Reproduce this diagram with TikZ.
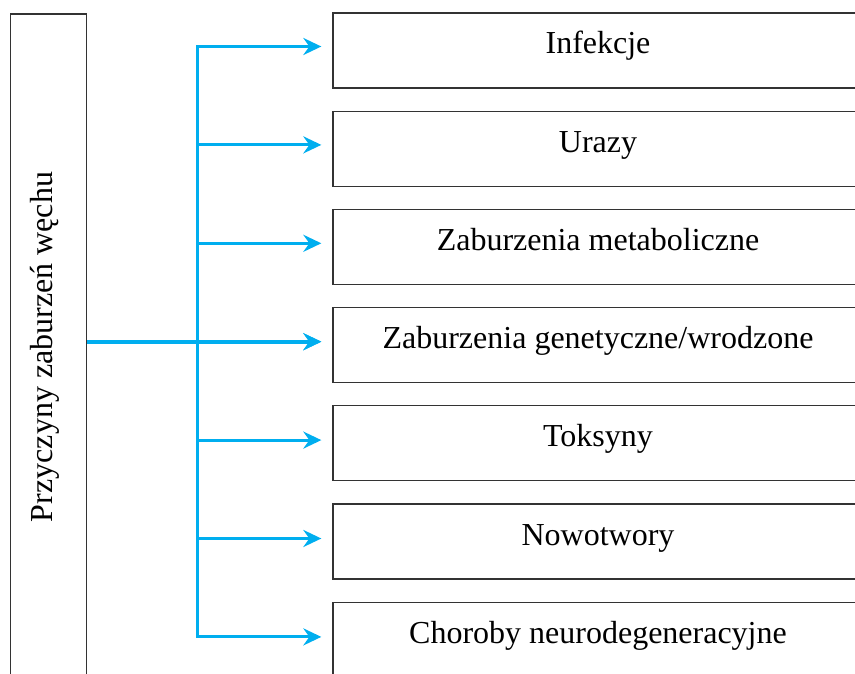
\documentclass[tikz,border=0pt]{standalone}
\usepackage{fontspec}
\setmainfont{Liberation Serif}
\usetikzlibrary{arrows.meta}
\definecolor{branchblue}{RGB}{0,174,239}
\tikzset{
    cause box/.style={draw=black!80, line width=1.3pt, inner sep=0pt,
        minimum width=530pt, minimum height=75pt,
        text height=22pt, text depth=15pt, font=\fontsize{32}{36}\selectfont},
    branch/.style={draw=branchblue, line width=3pt, shorten >=11pt,
        -{Stealth[length=18pt,width=17pt,inset=6pt]}},
    trunk/.style={draw=branchblue, line width=3pt, line cap=rect}
}
\begin{document}
\begin{tikzpicture}[x=1pt,y=-1pt]
\useasboundingbox (0,0) rectangle (855,674);
\clip (0,0) rectangle (855,674);
\node[cause box, rotate=90, minimum width=666pt, minimum height=76pt]
  (causes) at (48.5,347) {Przyczyny zaburzeń węchu};
\foreach \cause [count=\i] in {Infekcje, Urazy, Zaburzenia metaboliczne,
    {Zaburzenia genetyczne/wrodzone}, Toksyny, Nowotwory,
    Choroby neurodegeneracyjne} {
  \node[cause box] (c\i) at (598, {50.5+98.2*(\i-1)}) {\cause};
  \coordinate (j\i) at (197, {46.5+98.4*(\i-1)});
  \draw[branch] (j\i) -- (j\i -| c\i.west);
}
\draw[trunk] (j1) -- (j7);
\draw[branch, line width=3.6pt] (causes.south |- j4) -- (j4 -| c4.west);
\end{tikzpicture}
\end{document}
